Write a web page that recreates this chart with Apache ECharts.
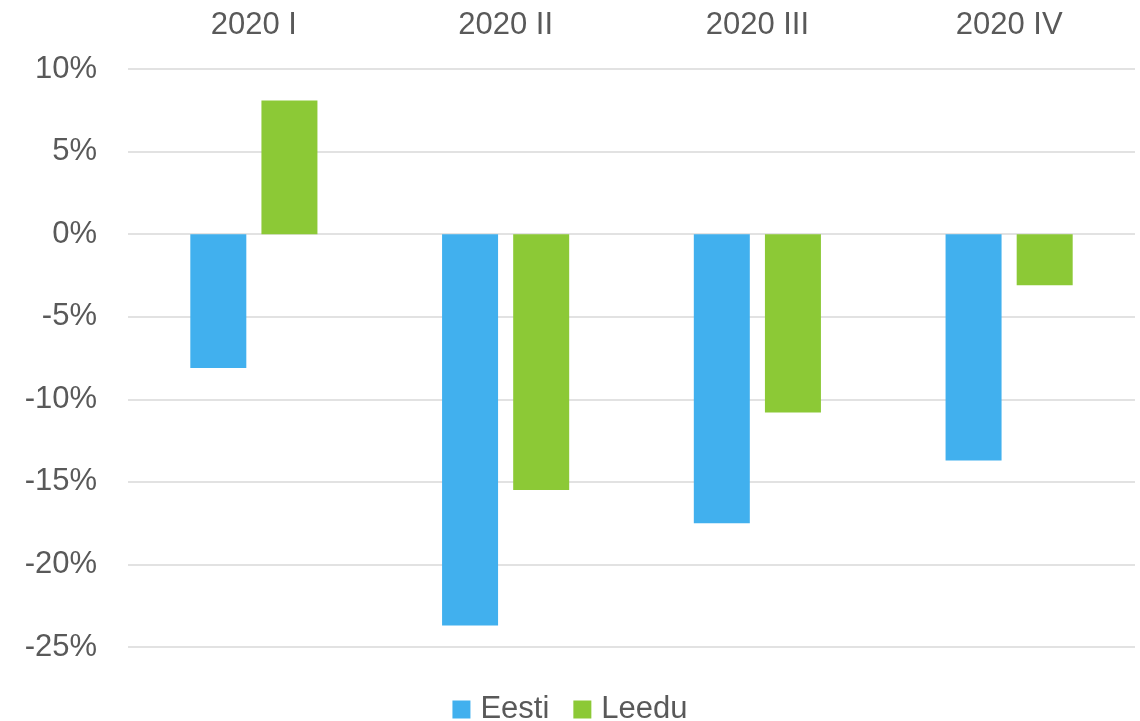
<!DOCTYPE html>
<html>
<head>
<meta charset="utf-8">
<script src="https://cdn.jsdelivr.net/npm/echarts@6/dist/echarts.min.js"></script>
<style>
  html, body { margin: 0; padding: 0; background: #fff; }
  #chart { width: 1140px; height: 721px; }
</style>
</head>
<body>
<div id="chart"></div>
<script>
const categories = ["2020 I", "2020 II", "2020 III", "2020 IV"];
const eesti = [-8.1, -23.7, -17.5, -13.7];
const leedu = [8.1, -15.5, -10.8, -3.1];

const myChart = echarts.init(document.getElementById("chart"));
const font = "Liberation Sans";
const option = {
  color: ["#41b0ee", "#8cc936"],
  legend: {
    top: 689,
    left: "center",
    itemWidth: 18,
    itemHeight: 18,
    itemGap: 24,
    icon: "rect",
    textStyle: { fontFamily: font, fontSize: 31, color: "#595959", padding: [0, 0, 0, 5] },
    data: ["Eesti", "Leedu"],
  },
  grid: {
    left: 128,
    right: 5,
    top: 69,
    bottom: 74,
  },
  xAxis: {
    type: "category",
    position: "top",
    data: categories,
    axisLine: { show: false },
    axisTick: { show: false },
    axisLabel: {
      margin: 28,
      fontFamily: font,
      fontSize: 31,
      color: "#595959",
    },
  },
  yAxis: {
    type: "value",
    min: -25,
    max: 10,
    interval: 5,
    axisLine: { show: false },
    axisTick: { show: false },
    axisLabel: {
      margin: 31,
      fontFamily: font,
      fontSize: 31,
      color: "#595959",
      formatter: "{value}%",
      padding: [4, 0, 0, 0],
    },
    splitLine: { lineStyle: { color: "#d9d9d9", width: 1.5 } },
  },
  series: [
    {
      name: "Eesti",
      type: "bar",
      data: eesti,
      barWidth: 56,
      barGap: "27%",
      barCategoryGap: "50%",
    },
    {
      name: "Leedu",
      type: "bar",
      data: leedu,
      barWidth: 56,
      barGap: "27%",
      barCategoryGap: "50%",
    },
  ],
};
myChart.setOption(option);
</script>
</body>
</html>
